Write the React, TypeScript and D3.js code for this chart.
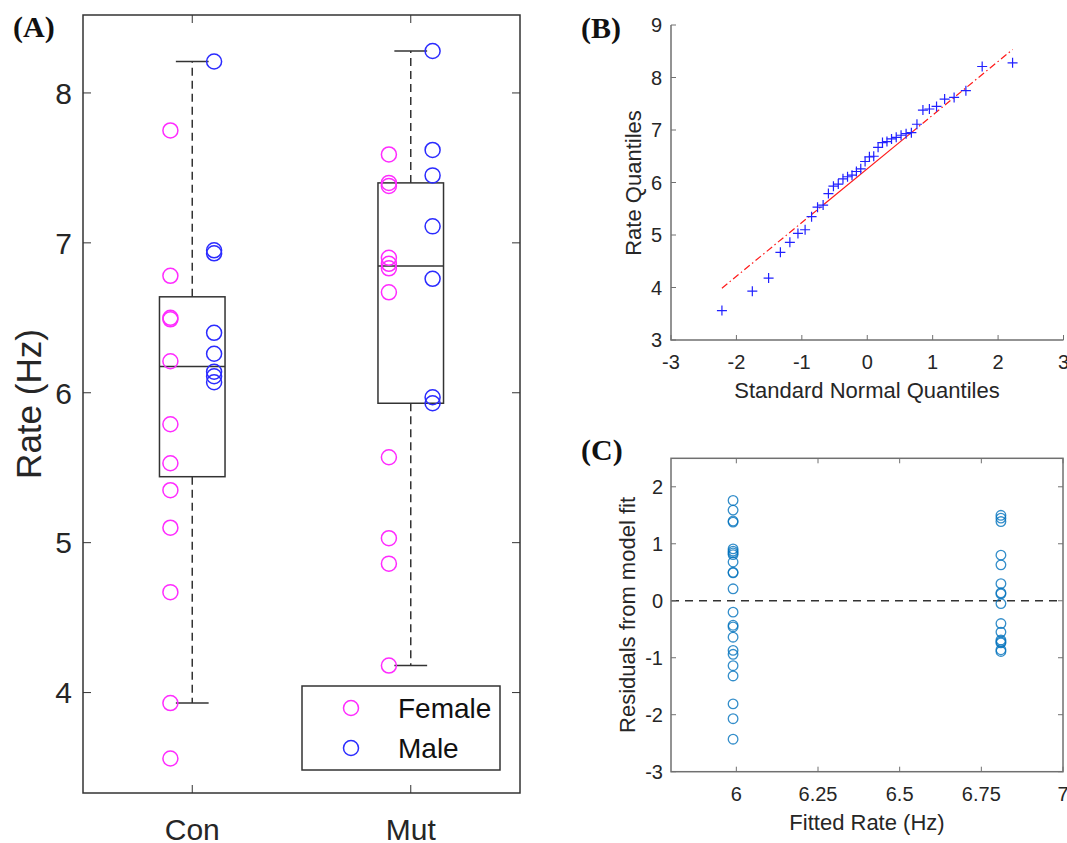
import React, { useRef, useEffect } from 'react';
import * as d3 from 'd3';

// Panel A: firing rate per animal, by group and sex
const groups = ['Con', 'Mut'];
const conFemale = [7.75, 6.78, 6.5, 6.49, 6.21, 5.79, 5.53, 5.35, 5.1, 4.67, 3.93, 3.56];
const conMale = [8.21, 6.95, 6.93, 6.4, 6.26, 6.14, 6.11, 6.07];
const mutFemale = [7.59, 7.4, 7.38, 6.9, 6.86, 6.83, 6.67, 5.57, 5.03, 4.86, 4.18];
const mutMale = [8.28, 7.62, 7.45, 7.11, 6.76, 5.97, 5.93];
const rateTicks = [4, 5, 6, 7, 8];
const legendLabels = ['Female', 'Male'];

// Panel B: normal probability plot ticks
const qqXTicks = [-3, -2, -1, 0, 1, 2, 3];
const qqYTicks = [3, 4, 5, 6, 7, 8, 9];

// Panel C: residuals vs fitted
const fittedRate = [5.99, 6.81];
const residualsCon = [1.76, 1.59, 1.4, 1.38, 0.91, 0.87, 0.84, 0.81, 0.68, 0.5, 0.49, 0.21, -0.2, -0.43, -0.46, -0.64, -0.87, -0.94, -1.14, -1.32, -1.81, -2.07, -2.43];
const residualsMut = [1.5, 1.45, 1.39, 0.8, 0.63, 0.3, 0.14, 0.12, -0.05, -0.4, -0.55, -0.69, -0.72, -0.74, -0.86, -0.89];
const fitXTicks = [6, 6.25, 6.5, 6.75, 7];
const fitYTicks = [-3, -2, -1, 0, 1, 2];

const FONT = '"Liberation Sans", Arial, sans-serif';
const TEXT = '#262626';
const FEMALE = '#ff2bff';
const MALE = '#2b2bff';

// MATLAB-style percentile (position n*p + 0.5, linear interpolation)
const prctile = (vals: number[], p: number) => {
  const s = [...vals].sort((a, b) => a - b);
  const n = s.length;
  const pos = n * p + 0.5;
  if (pos <= 1) return s[0];
  if (pos >= n) return s[n - 1];
  const lo = Math.floor(pos);
  return s[lo - 1] + (pos - lo) * (s[lo] - s[lo - 1]);
};

// inverse standard normal cdf (Acklam's approximation)
const norminv = (p: number) => {
  const a = [-39.69683028665376, 220.9460984245205, -275.9285104469687, 138.357751867269, -30.66479806614716, 2.506628277459239];
  const b = [-54.47609879822406, 161.5858368580409, -155.6989798598866, 66.80131188771972, -13.28068155288572];
  const c = [-0.007784894002430293, -0.3223964580411365, -2.400758277161838, -2.549732539343734, 4.374664141464968, 2.938163982698783];
  const d = [0.007784695709041462, 0.3224671290700398, 2.445134137142996, 3.754408661907416];
  const plow = 0.02425;
  if (p < plow) {
    const q = Math.sqrt(-2 * Math.log(p));
    return (((((c[0] * q + c[1]) * q + c[2]) * q + c[3]) * q + c[4]) * q + c[5]) / ((((d[0] * q + d[1]) * q + d[2]) * q + d[3]) * q + 1);
  }
  if (p > 1 - plow) return -norminv(1 - p);
  const q = p - 0.5;
  const r = q * q;
  return (((((a[0] * r + a[1]) * r + a[2]) * r + a[3]) * r + a[4]) * r + a[5]) * q / (((((b[0] * r + b[1]) * r + b[2]) * r + b[3]) * r + b[4]) * r + 1);
};

const App = () => {
  const ref = useRef<SVGSVGElement>(null);

  useEffect(() => {
    const svg = d3.select(ref.current);
    svg.selectAll('*').remove();

    const tickLines = (g, vals, pos, vertical, edge, len, color) => {
      g.append('g').selectAll('line').data(vals).join('line')
        .attr('x1', d => vertical ? edge : pos(d))
        .attr('x2', d => vertical ? edge + len : pos(d))
        .attr('y1', d => vertical ? pos(d) : edge)
        .attr('y2', d => vertical ? pos(d) : edge + len)
        .attr('stroke', color).attr('stroke-width', 1);
    };
    const yLabels = (g, vals, pos, x, size) => {
      g.append('g').selectAll('text').data(vals).join('text')
        .attr('x', x).attr('y', d => pos(d)).attr('dy', '0.36em')
        .attr('text-anchor', 'end').attr('font-size', size)
        .attr('font-family', FONT).attr('fill', TEXT)
        .text(d => String(d));
    };
    const xLabels = (g, vals, pos, y, size, fmt = (d) => String(d)) => {
      g.append('g').selectAll('text').data(vals).join('text')
        .attr('x', d => pos(d)).attr('y', y)
        .attr('text-anchor', 'middle').attr('font-size', size)
        .attr('font-family', FONT).attr('fill', TEXT)
        .text(fmt);
    };
    const rotLabel = (g, text, x, y, size) => {
      g.append('text').attr('transform', `translate(${x},${y}) rotate(-90)`)
        .attr('text-anchor', 'middle').attr('font-size', size)
        .attr('font-family', FONT).attr('fill', TEXT).text(text);
    };
    const panelTag = (text, x, y) => {
      svg.append('text').attr('x', x).attr('y', y)
        .attr('font-family', '"Liberation Serif", "Times New Roman", serif')
        .attr('font-weight', 'bold').attr('font-size', 30).attr('fill', '#111')
        .text(text);
    };

    // ---------- Panel A: boxplot + scatter ----------
    const gA = svg.append('g');
    const xA = d3.scaleLinear().domain([0.5, 2.5]).range([83, 520]);
    const yA = d3.scaleLinear().domain([3.33, 8.52]).range([793, 15]);
    const boxColor = '#333';
    const samples = [
      { female: conFemale, male: conMale },
      { female: mutFemale, male: mutMale },
    ];

    samples.forEach((s, i) => {
      const all = [...s.female, ...s.male];
      const q1 = prctile(all, 0.25);
      const med = prctile(all, 0.5);
      const q3 = prctile(all, 0.75);
      const iqr = q3 - q1;
      const hi = d3.max(all.filter(v => v <= q3 + 1.5 * iqr));
      const lo = d3.min(all.filter(v => v >= q1 - 1.5 * iqr));
      const cx = i + 1;
      // whiskers
      [[q3, hi], [q1, lo]].forEach(([a, b]) => {
        gA.append('line').attr('x1', xA(cx)).attr('x2', xA(cx))
          .attr('y1', yA(a)).attr('y2', yA(b))
          .attr('stroke', boxColor).attr('stroke-width', 1.5)
          .attr('stroke-dasharray', '8,5');
        gA.append('line').attr('x1', xA(cx - 0.075)).attr('x2', xA(cx + 0.075))
          .attr('y1', yA(b)).attr('y2', yA(b))
          .attr('stroke', boxColor).attr('stroke-width', 1.5);
      });
      gA.append('rect').attr('x', xA(cx - 0.15)).attr('y', yA(q3))
        .attr('width', xA(cx + 0.15) - xA(cx - 0.15)).attr('height', yA(q1) - yA(q3))
        .attr('fill', 'none').attr('stroke', boxColor).attr('stroke-width', 1.5);
      gA.append('line').attr('x1', xA(cx - 0.15)).attr('x2', xA(cx + 0.15))
        .attr('y1', yA(med)).attr('y2', yA(med))
        .attr('stroke', boxColor).attr('stroke-width', 1.5);
    });

    samples.forEach((s, i) => {
      gA.append('g').selectAll('circle').data(s.female).join('circle')
        .attr('cx', xA(i + 1 - 0.1)).attr('cy', d => yA(d)).attr('r', 7.5)
        .attr('fill', 'none').attr('stroke', FEMALE).attr('stroke-width', 1.5);
      gA.append('g').selectAll('circle').data(s.male).join('circle')
        .attr('cx', xA(i + 1 + 0.1)).attr('cy', d => yA(d)).attr('r', 7.5)
        .attr('fill', 'none').attr('stroke', MALE).attr('stroke-width', 1.5);
    });

    gA.append('rect').attr('x', 83).attr('y', 15).attr('width', 437).attr('height', 778)
      .attr('fill', 'none').attr('stroke', '#333').attr('stroke-width', 1.5);
    tickLines(gA, rateTicks, yA, true, 83, 8, '#333');
    tickLines(gA, rateTicks, yA, true, 520, -8, '#333');
    tickLines(gA, [1, 2], xA, false, 793, -8, '#333');
    tickLines(gA, [1, 2], xA, false, 15, 8, '#333');
    yLabels(gA, rateTicks, yA, 72, 30);
    xLabels(gA, [1, 2], xA, 840, 30, d => groups[d - 1]);
    rotLabel(gA, 'Rate (Hz)', 41, 404, 35);

    // legend
    const leg = gA.append('g');
    leg.append('rect').attr('x', 302).attr('y', 686).attr('width', 198).attr('height', 84)
      .attr('fill', '#fff').attr('stroke', '#333').attr('stroke-width', 1.5);
    legendLabels.forEach((lab, i) => {
      leg.append('circle').attr('cx', 351).attr('cy', 708 + i * 40).attr('r', 7.5)
        .attr('fill', 'none').attr('stroke', i === 0 ? FEMALE : MALE).attr('stroke-width', 1.5);
      leg.append('text').attr('x', 398).attr('y', 708 + i * 40).attr('dy', '0.36em')
        .attr('font-size', 28).attr('font-family', FONT).attr('fill', '#111').text(lab);
    });

    // ---------- Panel B: QQ plot ----------
    const gB = svg.append('g');
    const xB = d3.scaleLinear().domain([-3, 3]).range([671, 1063.5]);
    const yB = d3.scaleLinear().domain([3, 9]).range([340, 25]);
    const pooled = [...conFemale, ...conMale, ...mutFemale, ...mutMale].sort((a, b) => a - b);
    const n = pooled.length;
    const qq = pooled.map((v, i) => ({ x: norminv((i + 0.5) / n), y: v }));
    const qx1 = norminv(0.25), qx3 = norminv(0.75);
    const qy1 = prctile(pooled, 0.25), qy3 = prctile(pooled, 0.75);
    const slope = (qy3 - qy1) / (qx3 - qx1);
    const fit = (x) => qy1 + slope * (x - qx1);
    const xmin = qq[0].x, xmax = qq[n - 1].x;
    [[xmin, qx1, '7,3,1.5,3'], [qx1, qx3, null], [qx3, xmax, '7,3,1.5,3']].forEach(([a, b, dash]) => {
      gB.append('line').attr('x1', xB(a)).attr('x2', xB(b))
        .attr('y1', yB(fit(a))).attr('y2', yB(fit(b)))
        .attr('stroke', '#ff1a1a').attr('stroke-width', 1.2)
        .attr('stroke-dasharray', dash);
    });
    gB.append('g').selectAll('path').data(qq).join('path')
      .attr('d', 'M-5,0H5M0,-5V5')
      .attr('transform', d => `translate(${xB(d.x)},${yB(d.y)})`)
      .attr('stroke', '#2020ff').attr('stroke-width', 1.2).attr('fill', 'none');

    const axisGray = '#707070';
    gB.append('path').attr('d', `M671,25V340H1063.5`)
      .attr('fill', 'none').attr('stroke', axisGray).attr('stroke-width', 1.5);
    tickLines(gB, qqYTicks, yB, true, 671, 5, axisGray);
    tickLines(gB, qqXTicks, xB, false, 340, -5, axisGray);
    yLabels(gB, qqYTicks, yB, 662, 20);
    xLabels(gB, qqXTicks, xB, 369, 20);
    xLabels(gB, ['Standard Normal Quantiles'], () => 867, 398, 22);
    rotLabel(gB, 'Rate Quantiles', 641, 183, 22);

    // ---------- Panel C: residuals ----------
    const gC = svg.append('g');
    const xC = d3.scaleLinear().domain([5.8, 7]).range([671, 1063]);
    const yC = d3.scaleLinear().domain([-3, 2.5]).range([771.7, 458.3]);
    gC.append('line').attr('x1', 671).attr('x2', 1063).attr('y1', yC(0)).attr('y2', yC(0))
      .attr('stroke', '#333').attr('stroke-width', 1.5).attr('stroke-dasharray', '8,6');
    [residualsCon, residualsMut].forEach((res, i) => {
      gC.append('g').selectAll('circle').data(res).join('circle')
        .attr('cx', xC(fittedRate[i])).attr('cy', d => yC(d)).attr('r', 4.8)
        .attr('fill', 'none').attr('stroke', '#0072BD').attr('stroke-opacity', 0.8)
        .attr('stroke-width', 1.3);
    });
    gC.append('rect').attr('x', 671).attr('y', 458.3).attr('width', 392).attr('height', 313.4)
      .attr('fill', 'none').attr('stroke', axisGray).attr('stroke-width', 1.5);
    tickLines(gC, fitYTicks, yC, true, 671, 5, axisGray);
    tickLines(gC, fitYTicks, yC, true, 1063, -5, axisGray);
    tickLines(gC, fitXTicks, xC, false, 771.7, -5, axisGray);
    tickLines(gC, fitXTicks, xC, false, 458.3, 5, axisGray);
    yLabels(gC, fitYTicks, yC, 663, 20);
    xLabels(gC, fitXTicks, xC, 801, 20);
    xLabels(gC, ['Fitted Rate (Hz)'], () => 867, 830, 22);
    rotLabel(gC, 'Residuals from model fit', 635, 615, 22);

    panelTag('(A)', 13, 37);
    panelTag('(B)', 581, 38);
    panelTag('(C)', 581, 460);
  }, []);

  return (
    <svg ref={ref} width={1067} height={843}
      style={{ position: 'absolute', left: 0, top: 0, background: '#fff' }} />
  );
};

export default App;
